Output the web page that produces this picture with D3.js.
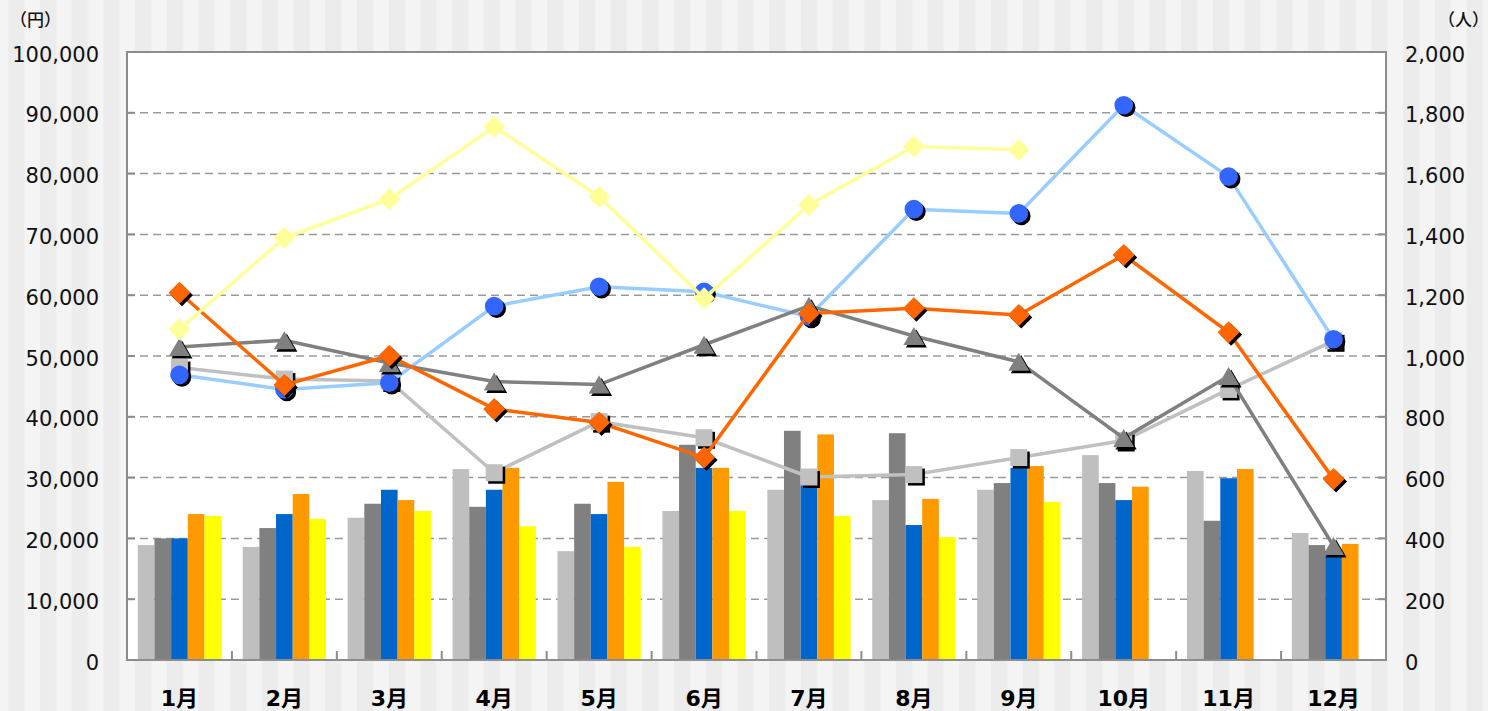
<!DOCTYPE html>
<html>
<head>
<meta charset="utf-8">
<script src="https://cdn.jsdelivr.net/npm/d3@7"></script>
<style>
  body { margin: 0; background: #f3f3f3; }
  svg { display: block; }
</style>
</head>
<body>
<div id="chart"></div>
<script>
// categories
const months = ["1月", "2月", "3月", "4月", "5月", "6月", "7月", "8月", "9月", "10月", "11月", "12月"];

// bars, left axis (円)
const barLight  = [18900, 18600, 23400, 31400, 17900, 24500, 28000, 26300, 28000, 33700, 31100, 20900];
const barDark   = [20000, 21700, 25700, 25200, 25700, 35400, 37700, 37300, 29100, 29100, 22900, 18900];
const barBlue   = [20000, 24000, 28000, 28000, 24000, 31600, 29000, 22200, 31600, 26300, 29900, 18000];
const barOrange = [24000, 27300, 26300, 31600, 29300, 31600, 37100, 26500, 31900, 28500, 31400, 19100];
const barYellow = [23700, 23200, 24500, 22000, 18600, 24500, 23700, 20200, 26000, null, null, null];

// lines, right axis (人)
const lineLight  = [962, 924, 918, 616, 784, 731, 602, 610, 666, 722, 890, 1050];
const lineBlue   = [938, 890, 912, 1164, 1228, 1211, 1130, 1483, 1469, 1825, 1590, 1055];
const lineDark   = [1030, 1052, 977, 916, 906, 1037, 1165, 1066, 981, 730, 934, 375];
const lineOrange = [1208, 905, 1001, 826, 781, 666, 1140, 1157, 1135, 1332, 1078, 595];
const lineYellow = [1088, 1389, 1516, 1754, 1524, 1190, 1497, 1689, 1678, null, null, null];

const leftTicks = d3.range(0, 100001, 10000);
const rightTicks = d3.range(0, 2001, 200);

const width = 1488, height = 711;
const margin = {top: 52, right: 102, bottom: 51, left: 127};

const bars = [
  {values: barLight,  color: "#bfbfbf"},
  {values: barDark,   color: "#808080"},
  {values: barBlue,   color: "#0066cc"},
  {values: barOrange, color: "#ff9900"},
  {values: barYellow, color: "#ffff00"}
];

const lines = [
  {values: lineLight,  line: "#c0c0c0", fill: "#c0c0c0", shape: "square",   shadow: true},
  {values: lineBlue,   line: "#99ccff", fill: "#3366ff", shape: "circle",   shadow: true},
  {values: lineDark,   line: "#808080", fill: "#808080", shape: "triangle", shadow: true},
  {values: lineOrange, line: "#ff6600", fill: "#ff6600", shape: "diamond",  shadow: true},
  {values: lineYellow, line: "#ffff99", fill: "#ffff99", shape: "diamond",  shadow: false}
];

const svg = d3.select("#chart").append("svg")
  .attr("width", width)
  .attr("height", height);

// striped background
const defs = svg.append("defs");
const pat = defs.append("pattern")
  .attr("id", "stripes")
  .attr("patternUnits", "userSpaceOnUse")
  .attr("x", 8.3)
  .attr("width", 31.7)
  .attr("height", 10);
pat.append("rect").attr("width", 31.7).attr("height", 10).attr("fill", "#f4f4f4");
pat.append("rect").attr("width", 16.2).attr("height", 10).attr("fill", "#ececec");

svg.append("rect")
  .attr("width", width)
  .attr("height", height)
  .attr("fill", "url(#stripes)");

const x0 = d3.scaleBand()
  .domain(months)
  .range([margin.left, width - margin.right]);

const x1 = d3.scaleBand()
  .domain(d3.range(bars.length))
  .range([0, x0.bandwidth()])
  .paddingInner(0)
  .paddingOuter(0.65);

const yL = d3.scaleLinear().domain([0, 100000]).range([height - margin.bottom, margin.top]);
const yR = d3.scaleLinear().domain([0, 2000]).range([height - margin.bottom, margin.top]);

// plot area
svg.append("rect")
  .attr("x", margin.left)
  .attr("y", margin.top)
  .attr("width", width - margin.left - margin.right)
  .attr("height", height - margin.top - margin.bottom)
  .attr("fill", "#fff");

// grid
svg.append("g")
  .selectAll("line")
  .data(leftTicks.slice(1, -1))
  .join("line")
  .attr("x1", margin.left)
  .attr("x2", width - margin.right)
  .attr("y1", d => yL(d))
  .attr("y2", d => yL(d))
  .attr("stroke", "#999")
  .attr("stroke-width", 1.5)
  .attr("stroke-dasharray", "8,5");

// bars
const groups = svg.append("g")
  .selectAll("g")
  .data(bars)
  .join("g")
  .attr("fill", d => d.color);

groups.selectAll("rect")
  .data((d, si) => d.values.map((v, i) => ({v, i, si})).filter(e => e.v != null))
  .join("rect")
  .attr("x", d => x0(months[d.i]) + x1(d.si))
  .attr("width", x1.bandwidth())
  .attr("y", d => yL(d.v))
  .attr("height", d => yL(0) - yL(d.v));

// frame
const frame = svg.append("g")
  .attr("stroke", "#8c8c8c")
  .attr("stroke-width", 2)
  .attr("fill", "none");
frame.append("rect")
  .attr("x", margin.left)
  .attr("y", margin.top)
  .attr("width", width - margin.left - margin.right)
  .attr("height", height - margin.top - margin.bottom);

// axis ticks (inside)
frame.selectAll(".tl")
  .data(leftTicks)
  .join("line")
  .attr("x1", margin.left)
  .attr("x2", margin.left + 8)
  .attr("y1", d => yL(d))
  .attr("y2", d => yL(d));
frame.selectAll(".tr")
  .data(rightTicks)
  .join("line")
  .attr("x1", width - margin.right - 8)
  .attr("x2", width - margin.right)
  .attr("y1", d => yR(d))
  .attr("y2", d => yR(d));
frame.selectAll(".tx")
  .data(months.slice(1))
  .join("line")
  .attr("x1", d => x0(d))
  .attr("x2", d => x0(d))
  .attr("y1", height - margin.bottom - 9)
  .attr("y2", height - margin.bottom);

// lines + markers
function markerPath(shape) {
  if (shape === "circle") return d3.symbol(d3.symbolCircle, Math.PI * 9.3 * 9.3)();
  if (shape === "square") return "M-8.5,-8.5H8.5V8.5H-8.5Z";
  if (shape === "diamond") return "M0,-11L11,0L0,11L-11,0Z";
  if (shape === "triangle") return "M0,-9L10.5,9L-10.5,9Z";
}

const cx = i => x0(months[i]) + x0.bandwidth() / 2;

const lineGen = d3.line()
  .defined(d => d != null)
  .x((d, i) => cx(i))
  .y(d => yR(d));

lines.forEach(s => {
  const g = svg.append("g");
  g.append("path")
    .datum(s.values)
    .attr("d", lineGen)
    .attr("fill", "none")
    .attr("stroke", s.line)
    .attr("stroke-width", 3.5);

  const pts = s.values.map((v, i) => ({v, i})).filter(d => d.v != null);
  if (s.shadow) {
    g.selectAll(".shadow")
      .data(pts)
      .join("path")
      .attr("transform", d => `translate(${cx(d.i) + 2.5},${yR(d.v) + 2.5})`)
      .attr("d", markerPath(s.shape))
      .attr("fill", "#000");
  }
  g.selectAll(".mark")
    .data(pts)
    .join("path")
    .attr("transform", d => `translate(${cx(d.i)},${yR(d.v)})`)
    .attr("d", markerPath(s.shape))
    .attr("fill", s.fill);
});

// tick labels
const fontTick = "'DejaVu Sans', 'Noto Sans CJK JP', sans-serif";
svg.append("g")
  .selectAll("text")
  .data(leftTicks)
  .join("text")
  .attr("x", 99)
  .attr("y", d => yL(d) + 9.5)
  .attr("text-anchor", "end")
  .attr("font-family", fontTick)
  .attr("font-size", 21)
  .attr("fill", "#111")
  .text(d => d3.format(",")(d));

svg.append("g")
  .selectAll("text")
  .data(rightTicks)
  .join("text")
  .attr("x", 1405)
  .attr("y", d => yR(d) + 9.5)
  .attr("text-anchor", "start")
  .attr("font-family", fontTick)
  .attr("font-size", 21)
  .attr("fill", "#111")
  .text(d => d3.format(",")(d));

svg.append("g")
  .selectAll("text")
  .data(months)
  .join("text")
  .attr("x", d => x0(d) + x0.bandwidth() / 2)
  .attr("y", 706)
  .attr("text-anchor", "middle")
  .attr("font-family", fontTick)
  .attr("font-weight", "bold")
  .attr("font-size", 22)
  .attr("fill", "#000")
  .text(d => d);

// units
svg.append("text")
  .attr("x", 10)
  .attr("y", 26)
  .attr("font-family", "'Noto Sans CJK JP', sans-serif")
  .attr("font-size", 17)
  .attr("font-weight", 500)
  .attr("fill", "#111")
  .text("（円）");
svg.append("text")
  .attr("x", 1438)
  .attr("y", 26)
  .attr("font-family", "'Noto Sans CJK JP', sans-serif")
  .attr("font-size", 17)
  .attr("font-weight", 500)
  .attr("fill", "#111")
  .text("（人）");
</script>
</body>
</html>
